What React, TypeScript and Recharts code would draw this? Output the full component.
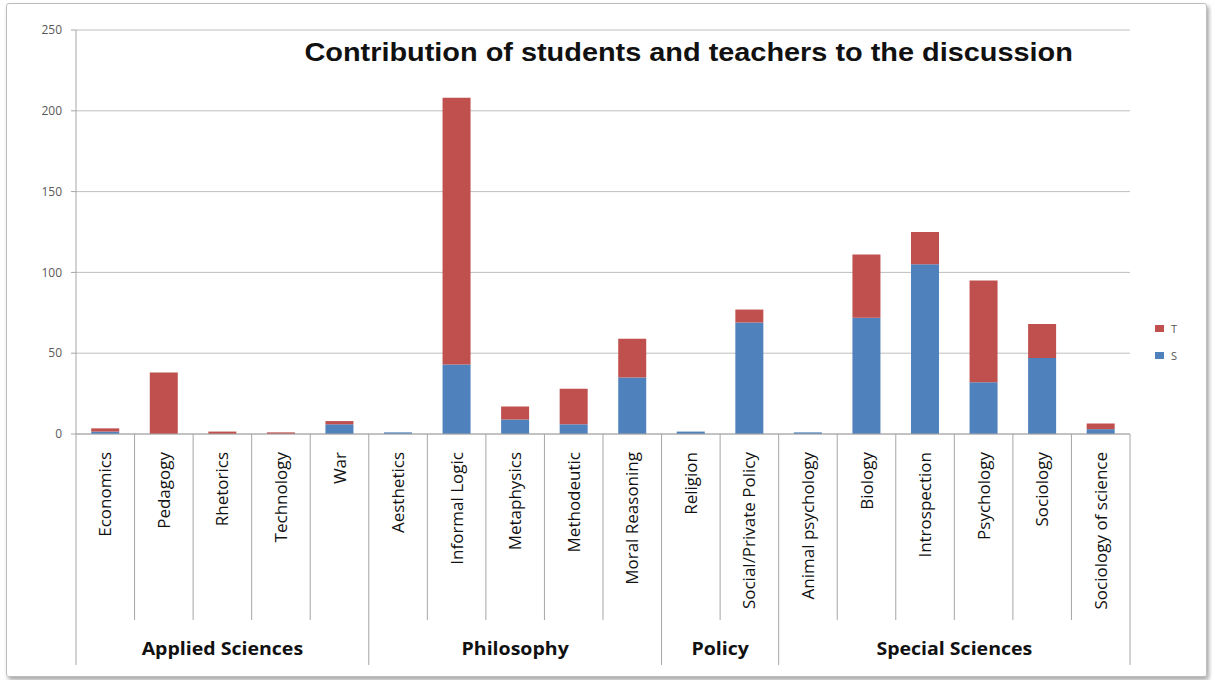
import { BarChart, Bar, XAxis, YAxis, CartesianGrid } from "recharts";

const categories = [
  "Economics",
  "Pedagogy",
  "Rhetorics",
  "Technology",
  "War",
  "Aesthetics",
  "Informal Logic",
  "Metaphysics",
  "Methodeutic",
  "Moral Reasoning",
  "Religion",
  "Social/Private Policy",
  "Animal psychology",
  "Biology",
  "Introspection",
  "Psychology",
  "Sociology",
  "Sociology of science",
];

const groupNames = ["Applied Sciences", "Philosophy", "Policy", "Special Sciences"];
const groupSizes = [5, 5, 2, 6];

// S = students, T = teachers
const sValues = [1.5, 0, 0, 0, 6, 1, 43, 9, 6, 35, 1.5, 69, 1, 72, 105, 32, 47, 3];
const tValues = [2, 38, 1.5, 1, 2, 0, 165, 8, 22, 24, 0, 8, 0, 39, 20, 63, 21, 3.5];

const yTicks = [0, 50, 100, 150, 200, 250];

const data = categories.map((name, i) => ({ name, S: sValues[i], T: tValues[i] }));

// index of first category -> its group
const groupStarts: Record<number, { name: string; size: number }> = {};
{
  let idx = 0;
  groupNames.forEach((g, k) => {
    groupStarts[idx] = { name: g, size: groupSizes[k] };
    idx += groupSizes[k];
  });
}

const W = 1212;
const H = 680;
const PLOT_LEFT = 76;
const PLOT_RIGHT = 1130;
const PLOT_BOTTOM = 434;
const BAND = (PLOT_RIGHT - PLOT_LEFT) / categories.length;

const RED = "#C0504D";
const BLUE = "#4F81BD";
const LINE = "#a6a6a6";
const FONT = "'Open Sans', sans-serif";

function CategoryTick(props: any) {
  const { x, payload } = props;
  const i = payload.index;
  const left = x - BAND / 2;
  const grp = groupStarts[i];
  const tx = x + 6;
  const gx = grp ? left + (grp.size * BAND) / 2 : 0;
  return (
    <g>
      <line x1={left} x2={left} y1={PLOT_BOTTOM} y2={grp ? 665 : 620} stroke={LINE} />
      {i === categories.length - 1 && (
        <line x1={left + BAND} x2={left + BAND} y1={PLOT_BOTTOM} y2={665} stroke={LINE} />
      )}
      <text
        x={tx}
        y={452}
        transform={`rotate(-90, ${tx}, 452)`}
        textAnchor="end"
        fontSize={17}
        fontFamily={FONT}
        fill="#111"
      >
        {payload.value}
      </text>
      {grp && (
        <text
          x={gx}
          y={655}
          transform={`translate(${gx}, 0) scale(1.15, 1) translate(${-gx}, 0)`}
          textAnchor="middle"
          fontSize={17}
          fontWeight="bold"
          fontFamily={FONT}
          fill="#111"
        >
          {grp.name}
        </text>
      )}
    </g>
  );
}

export default function App() {
  const legendItems = [
    { name: "T", color: RED },
    { name: "S", color: BLUE },
  ];
  return (
    <div
      style={{
        position: "absolute",
        left: 0,
        top: 0,
        width: W,
        height: H,
        background: "#fff",
      }}
    >
      <div
        style={{
          position: "absolute",
          left: 6,
          top: 3,
          width: 1199,
          height: 672,
          border: "1px solid #bdbdbd",
          borderRadius: 3,
          boxShadow: "2px 3px 4px rgba(0,0,0,0.35)",
        }}
      />
      <div
        style={{
          position: "absolute",
          left: 0,
          top: 38,
          width: 1378,
          textAlign: "center",
        }}
      >
        <span
          style={{
            display: "inline-block",
            transform: "scaleX(1.155)",
            fontFamily: "'Liberation Sans', Arial, sans-serif",
            fontWeight: "bold",
            fontSize: 25,
            color: "#111",
          }}
        >
          Contribution of students and teachers to the discussion
        </span>
      </div>
      <div
        style={{
          position: "absolute",
          left: 1155,
          top: 315,
          fontFamily: FONT,
          fontSize: 11,
          color: "#555",
        }}
      >
        {legendItems.map((it) => (
          <div key={it.name} style={{ display: "flex", alignItems: "center", height: 27 }}>
            <span style={{ width: 9, height: 7, background: it.color, marginRight: 7 }} />
            {it.name}
          </div>
        ))}
      </div>
      <BarChart
        width={W}
        height={H}
        data={data}
        margin={{ top: 30, right: W - PLOT_RIGHT, bottom: 16, left: 16 }}
        barCategoryGap="26%"
        style={{ position: "absolute", left: 0, top: 0 }}
      >
        <CartesianGrid vertical={false} stroke="#bfbfbf" />
        <YAxis
          width={60}
          domain={[0, 250]}
          ticks={yTicks}
          interval={0}
          axisLine={{ stroke: LINE }}
          tickLine={{ stroke: LINE }}
          tickSize={5}
          tickMargin={9}
          tick={{ fontSize: 12, fill: "#595959", fontFamily: FONT }}
        />
        <XAxis
          dataKey="name"
          height={230}
          interval={0}
          axisLine={{ stroke: LINE }}
          tickLine={false}
          tickSize={0}
          tick={<CategoryTick />}
        />
        <Bar dataKey="S" stackId="a" fill={BLUE} isAnimationActive={false} />
        <Bar dataKey="T" stackId="a" fill={RED} isAnimationActive={false} />
      </BarChart>
    </div>
  );
}
